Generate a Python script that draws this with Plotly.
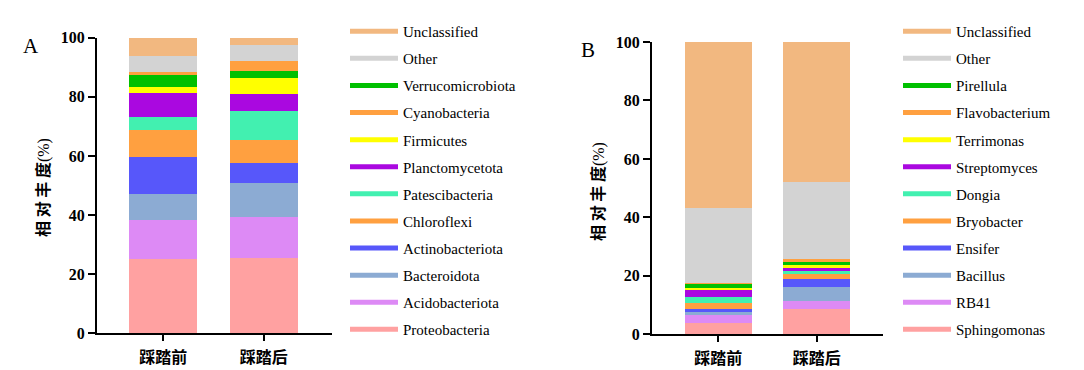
import plotly.graph_objects as go

categories = ["踩踏前", "踩踏后"]

# Panel A (phylum) - stacking order bottom -> top
a_names = ["Proteobacteria", "Acidobacteriota", "Bacteroidota", "Actinobacteriota",
           "Chloroflexi", "Patescibacteria", "Planctomycetota", "Firmicutes",
           "Verrucomicrobiota", "Cyanobacteria", "Other", "Unclassified"]
a_before = [25.0, 13.4, 8.8, 12.4, 9.2, 4.4, 8.1, 2.0, 4.1, 1.0, 5.4, 6.2]
a_after = [25.6, 13.7, 11.5, 6.8, 7.9, 9.7, 5.8, 5.4, 2.3, 3.4, 5.4, 2.5]
a_legend_order = ["Unclassified", "Other", "Verrucomicrobiota", "Cyanobacteria", "Firmicutes",
                  "Planctomycetota", "Patescibacteria", "Chloroflexi", "Actinobacteriota",
                  "Bacteroidota", "Acidobacteriota", "Proteobacteria"]

# Panel B (genus) - stacking order bottom -> top
b_names = ["Sphingomonas", "RB41", "Bacillus", "Ensifer", "Bryobacter", "Dongia",
           "Streptomyces", "Terrimonas", "Pirellula", "Flavobacterium", "Other", "Unclassified"]
b_before = [3.9, 2.7, 1.0, 1.0, 2.1, 2.1, 2.4, 0.7, 1.5, 0.2, 25.7, 56.7]
b_after = [8.7, 2.7, 4.8, 2.7, 1.8, 1.0, 1.0, 1.0, 1.0, 1.1, 26.3, 47.9]
b_legend_order = ["Unclassified", "Other", "Pirellula", "Flavobacterium", "Terrimonas",
                  "Streptomyces", "Dongia", "Bryobacter", "Ensifer", "Bacillus", "RB41", "Sphingomonas"]

# colours by stack position (shared by both panels)
stack_colors = ["#FFA1A1", "#DD8AF5", "#8CABD3", "#5757FA", "#FFA040", "#42F0B0",
                "#AA08E0", "#FFFF00", "#00C000", "#FFA040", "#D3D3D3", "#F2B880"]

y_ticks = [0, 20, 40, 60, 80, 100]
y_title = "相 对 丰 度<span style='font-family:Liberation Serif;font-weight:normal'>(%)</span>"

# page body has an 8px margin, so the figure is shrunk and offset accordingly
OFF = 8
W, H = 1084 - OFF, 370 - OFF

def fx(px):
    return (px - OFF) / W

def fy(py):
    return 1 - (py - OFF) / H

fig = go.Figure()

def add_panel(names, before, after, legend_order, xa, ya, legend_id):
    for i, n in enumerate(names):
        fig.add_trace(go.Bar(
            x=categories, y=[before[i], after[i]], name=n,
            marker=dict(color=stack_colors[i], line=dict(width=0)),
            width=0.68, xaxis=xa, yaxis=ya, showlegend=False,
            hoverinfo="name+y"))
    for n in legend_order:
        i = names.index(n)
        fig.add_trace(go.Scatter(
            x=[None], y=[None], mode="lines", name=n,
            line=dict(color=stack_colors[i], width=5),
            xaxis=xa, yaxis=ya, legend=legend_id, legendgroup=legend_id + n,
            showlegend=True))

add_panel(a_names, a_before, a_after, a_legend_order, "x", "y", "legend")
add_panel(b_names, b_before, b_after, b_legend_order, "x2", "y2", "legend2")

xaxis_common = dict(
    type="category", showline=True, linewidth=2, linecolor="black",
    ticks="outside", ticklen=6, tickwidth=2, tickcolor="black",
    showgrid=False, zeroline=False, ticklabelstandoff=2, automargin=False,
    tickfont=dict(family="Noto Sans CJK SC", size=16, color="black", weight="bold"),
)
yaxis_common = dict(
    range=[0, 100], tickvals=y_ticks, showline=True, linewidth=2, linecolor="black",
    ticks="outside", ticklen=7, tickwidth=2, tickcolor="black",
    showgrid=False, zeroline=False, automargin=False,
    tickfont=dict(family="Liberation Serif", size=16, color="black", weight="bold"),
)

legend_common = dict(
    bgcolor="rgba(0,0,0,0)", borderwidth=0, yanchor="top", xanchor="left",
    traceorder="grouped", tracegroupgap=4.6, itemwidth=48, itemclick=False,
    font=dict(family="Liberation Serif", size=15, color="black"),
)

title_font = dict(family="Noto Sans CJK SC", size=16, color="black", weight="bold")

fig.update_layout(
    width=W, height=H, margin=dict(l=0, r=0, t=0, b=0),
    paper_bgcolor="white", plot_bgcolor="white", barmode="stack",
    xaxis=dict(domain=[fx(97), fx(332)], range=[-0.66, 1.68], anchor="y", **xaxis_common),
    yaxis=dict(domain=[fy(333.3), fy(37.7)], anchor="x", **yaxis_common),
    xaxis2=dict(domain=[fx(652), fx(883)], range=[-0.67, 1.67], anchor="y2", **xaxis_common),
    yaxis2=dict(domain=[fy(334.3), fy(42)], anchor="x2", **yaxis_common),
    legend=dict(x=fx(345), y=fy(15), **legend_common),
    legend2=dict(x=fx(898), y=fy(15), **legend_common),
    annotations=[
        dict(text="A", x=fx(31), y=fy(46), xref="paper", yref="paper", showarrow=False,
             xanchor="center", yanchor="middle",
             font=dict(family="Liberation Serif", size=21, color="black")),
        dict(text="B", x=fx(588), y=fy(50), xref="paper", yref="paper", showarrow=False,
             xanchor="center", yanchor="middle",
             font=dict(family="Liberation Serif", size=21, color="black")),
        dict(text=y_title, textangle=-90, x=fx(42), y=fy(188), xref="paper", yref="paper",
             xanchor="center", yanchor="middle", showarrow=False, font=title_font),
        dict(text=y_title, textangle=-90, x=fx(597), y=fy(192), xref="paper", yref="paper",
             xanchor="center", yanchor="middle", showarrow=False, font=title_font),
    ],
)

fig.write_html("out.html")
